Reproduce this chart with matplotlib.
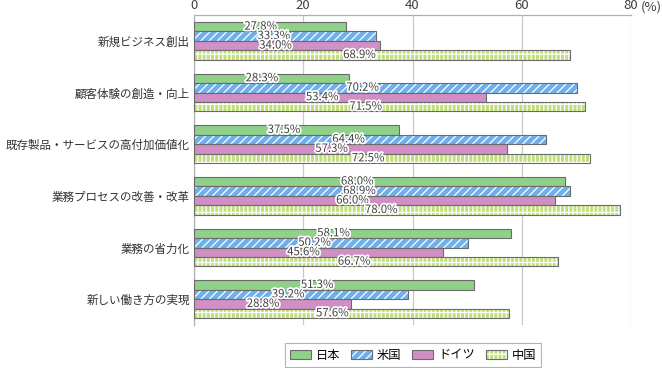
import matplotlib
matplotlib.use("Agg")
import matplotlib.pyplot as plt
import matplotlib.patheffects as pe
from matplotlib.patches import Patch
from matplotlib.legend_handler import HandlerTuple
import numpy as np

plt.rcParams['font.family'] = ['Noto Sans CJK JP', 'DejaVu Sans']
plt.rcParams['hatch.linewidth'] = 0.9

categories = ["新規ビジネス創出", "顧客体験の創造・向上", "既存製品・サービスの高付加価値化",
              "業務プロセスの改善・改革", "業務の省力化", "新しい働き方の実現"]
series_names = ["日本", "米国", "ドイツ", "中国"]
japan = [27.8, 28.3, 37.5, 68.0, 58.1, 51.3]
usa = [33.3, 70.2, 64.4, 68.9, 50.2, 39.2]
germany = [34.0, 53.4, 57.3, 66.0, 45.6, 28.8]
china = [68.9, 71.5, 72.5, 78.0, 66.7, 57.6]
xticks = [0, 20, 40, 60, 80]

series = [japan, usa, germany, china]
faces = ["#8fd08a", "#6fb0ec", "#d18fc6", "#bfdf78"]
hatches = [None, "////", None, "++||"]
edge = "#6b6b6b"

fig = plt.figure(figsize=(6.62, 3.68), dpi=100)
ax = fig.add_axes([194/662, 1-325/368, (631-194)/662, (325-15)/368])

y = np.arange(len(categories))
bh = 0.183
for k, (vals, fc, h) in enumerate(zip(series, faces, hatches)):
    pos = y + (k - 1.5) * bh
    if h:
        ax.barh(pos, vals, height=bh, color=fc, hatch=h, edgecolor="white", linewidth=0, zorder=3)
        ax.barh(pos, vals, height=bh, facecolor="none", edgecolor=edge, linewidth=0.8, zorder=4)
    else:
        ax.barh(pos, vals, height=bh, color=fc, edgecolor=edge, linewidth=0.8, zorder=3)
    for p, v in zip(pos, vals):
        ax.text(v * 0.44, p, f"{v:.1f}%", ha="center", va="center", fontsize=8.2,
                color="#404040", zorder=6,
                path_effects=[pe.withStroke(linewidth=2.5, foreground="white")])

ax.set_xlim(0, 80)
ax.set_ylim(len(categories) - 0.5, -0.5)
ax.set_xticks(xticks)
ax.xaxis.tick_top()
ax.tick_params(axis="x", length=0, labelsize=9.5, colors="#404040", pad=2)
ax.tick_params(axis="y", length=0, labelsize=8.3, colors="#333333", pad=3)
ax.set_yticks(y)
ax.set_yticklabels(categories)
ax.grid(axis="x", color="#c8c8c8", linewidth=0.9, zorder=0)
for s in ["right", "bottom"]:
    ax.spines[s].set_visible(False)
for s in ["top", "left"]:
    ax.spines[s].set_color("#b0b0b0")
    ax.spines[s].set_linewidth(0.9)
ax.text(641/662, 1-7/368, "(%)", transform=fig.transFigure, ha="left", va="center",
        fontsize=9.5, color="#404040")

handles = []
for fc, h in zip(faces, hatches):
    if h:
        handles.append((Patch(facecolor=fc, edgecolor="white", hatch=h, linewidth=0),
                        Patch(facecolor="none", edgecolor=edge, linewidth=0.8)))
    else:
        handles.append(Patch(facecolor=fc, edgecolor=edge, linewidth=0.8))
leg = fig.legend(handles, series_names, loc="center", bbox_to_anchor=(413/662, 1-355/368),
                 ncol=4, frameon=True, fancybox=False, fontsize=8.8, handlelength=1.7,
                 handleheight=0.7, columnspacing=0.9, handletextpad=0.4,
                 borderpad=0.45, edgecolor="#a0a0a0",
                 handler_map={tuple: HandlerTuple(ndivide=1, pad=0)})
leg.get_frame().set_linewidth(0.8)

fig.savefig("out.png", dpi=100)
